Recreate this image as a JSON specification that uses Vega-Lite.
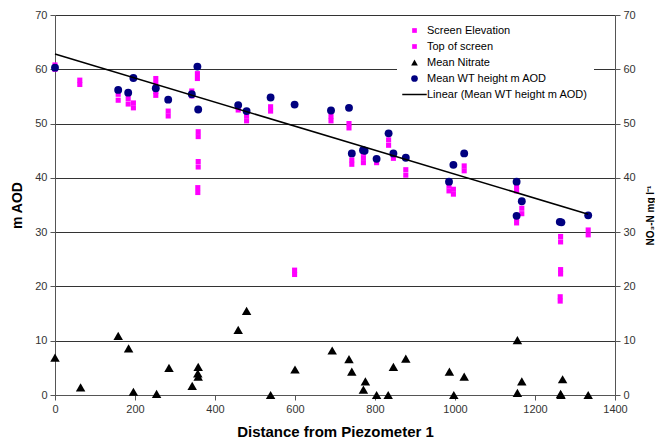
{
  "$schema": "https://vega.github.io/schema/vega-lite/v6.json",
  "width": 560,
  "height": 380,
  "autosize": "none",
  "padding": {"left": 55, "top": 15, "right": 40, "bottom": 44},
  "background": "white",
  "config": {
    "view": {"stroke": null},
    "font": "Liberation Sans",
    "axis": {
      "labelFont": "Liberation Sans",
      "labelFontSize": 11,
      "labelColor": "#333333",
      "titleFont": "Liberation Sans",
      "titleFontWeight": "bold",
      "titleColor": "#000000",
      "domainColor": "#555555",
      "tickColor": "#555555",
      "tickSize": 5,
      "labelPadding": 3,
      "labelFlush": false
    }
  },
  "layer": [
    {
      "layer": [
        {
          "data": {"values": [
            {"series": "Top of screen", "dist": 0, "value": 60.8},
            {"series": "Screen Elevation", "dist": 0, "value": 60.0},
            {"series": "Top of screen", "dist": 62, "value": 58.0},
            {"series": "Screen Elevation", "dist": 62, "value": 57.2},
            {"series": "Top of screen", "dist": 158, "value": 55.4},
            {"series": "Screen Elevation", "dist": 158, "value": 54.3},
            {"series": "Top of screen", "dist": 183, "value": 54.6},
            {"series": "Screen Elevation", "dist": 183, "value": 53.6},
            {"series": "Top of screen", "dist": 196, "value": 53.8},
            {"series": "Screen Elevation", "dist": 196, "value": 52.9},
            {"series": "Top of screen", "dist": 252, "value": 58.3},
            {"series": "Screen Elevation", "dist": 252, "value": 57.4},
            {"series": "Top of screen", "dist": 252, "value": 55.9},
            {"series": "Screen Elevation", "dist": 252, "value": 55.2},
            {"series": "Top of screen", "dist": 283, "value": 52.3},
            {"series": "Screen Elevation", "dist": 283, "value": 51.4},
            {"series": "Top of screen", "dist": 342, "value": 56.0},
            {"series": "Screen Elevation", "dist": 342, "value": 55.1},
            {"series": "Top of screen", "dist": 356, "value": 59.2},
            {"series": "Screen Elevation", "dist": 356, "value": 58.3},
            {"series": "Top of screen", "dist": 358, "value": 48.5},
            {"series": "Screen Elevation", "dist": 358, "value": 47.6},
            {"series": "Top of screen", "dist": 358, "value": 43.0},
            {"series": "Screen Elevation", "dist": 358, "value": 42.0},
            {"series": "Top of screen", "dist": 357, "value": 38.2},
            {"series": "Screen Elevation", "dist": 357, "value": 37.3},
            {"series": "Top of screen", "dist": 458, "value": 53.0},
            {"series": "Screen Elevation", "dist": 458, "value": 52.5},
            {"series": "Top of screen", "dist": 479, "value": 51.4},
            {"series": "Screen Elevation", "dist": 479, "value": 50.5},
            {"series": "Top of screen", "dist": 539, "value": 53.1},
            {"series": "Screen Elevation", "dist": 539, "value": 52.3},
            {"series": "Top of screen", "dist": 599, "value": 23.0},
            {"series": "Screen Elevation", "dist": 599, "value": 22.2},
            {"series": "Top of screen", "dist": 690, "value": 51.3},
            {"series": "Screen Elevation", "dist": 690, "value": 50.5},
            {"series": "Top of screen", "dist": 735, "value": 50.0},
            {"series": "Screen Elevation", "dist": 735, "value": 49.2},
            {"series": "Top of screen", "dist": 742, "value": 43.3},
            {"series": "Screen Elevation", "dist": 742, "value": 42.5},
            {"series": "Top of screen", "dist": 771, "value": 44.6},
            {"series": "Screen Elevation", "dist": 771, "value": 43.7},
            {"series": "Screen Elevation", "dist": 771, "value": 42.8},
            {"series": "Top of screen", "dist": 804, "value": 43.3},
            {"series": "Screen Elevation", "dist": 804, "value": 42.8},
            {"series": "Top of screen", "dist": 834, "value": 47.0},
            {"series": "Screen Elevation", "dist": 834, "value": 46.0},
            {"series": "Top of screen", "dist": 846, "value": 44.2},
            {"series": "Screen Elevation", "dist": 846, "value": 43.6},
            {"series": "Top of screen", "dist": 877, "value": 41.5},
            {"series": "Screen Elevation", "dist": 877, "value": 40.5},
            {"series": "Top of screen", "dist": 985, "value": 38.5},
            {"series": "Screen Elevation", "dist": 985, "value": 37.6},
            {"series": "Top of screen", "dist": 996, "value": 37.9},
            {"series": "Screen Elevation", "dist": 996, "value": 37.0},
            {"series": "Top of screen", "dist": 1023, "value": 42.2},
            {"series": "Screen Elevation", "dist": 1023, "value": 41.3},
            {"series": "Top of screen", "dist": 1154, "value": 38.4},
            {"series": "Screen Elevation", "dist": 1154, "value": 37.6},
            {"series": "Top of screen", "dist": 1154, "value": 32.5},
            {"series": "Screen Elevation", "dist": 1154, "value": 31.7},
            {"series": "Top of screen", "dist": 1167, "value": 34.4},
            {"series": "Screen Elevation", "dist": 1167, "value": 33.4},
            {"series": "Top of screen", "dist": 1264, "value": 29.2},
            {"series": "Screen Elevation", "dist": 1264, "value": 28.2},
            {"series": "Top of screen", "dist": 1264, "value": 23.1},
            {"series": "Screen Elevation", "dist": 1264, "value": 22.3},
            {"series": "Top of screen", "dist": 1263, "value": 18.1},
            {"series": "Screen Elevation", "dist": 1263, "value": 17.3},
            {"series": "Top of screen", "dist": 1333, "value": 30.4},
            {"series": "Screen Elevation", "dist": 1333, "value": 29.5}
          ]},
          "mark": {"type": "point", "filled": true, "size": 26, "opacity": 1},
          "encoding": {
            "x": {"field": "dist", "type": "quantitative"},
            "y": {"field": "value", "type": "quantitative"},
            "color": {"field": "series", "type": "nominal"},
            "shape": {"field": "series", "type": "nominal"}
          }
        },
        {
          "data": {"values": [
            {"series": "Mean WT height m AOD", "dist": 0, "value": 60.3},
            {"series": "Mean WT height m AOD", "dist": 158, "value": 56.2},
            {"series": "Mean WT height m AOD", "dist": 183, "value": 55.7},
            {"series": "Mean WT height m AOD", "dist": 196, "value": 58.4},
            {"series": "Mean WT height m AOD", "dist": 252, "value": 56.5},
            {"series": "Mean WT height m AOD", "dist": 283, "value": 54.4},
            {"series": "Mean WT height m AOD", "dist": 342, "value": 55.4},
            {"series": "Mean WT height m AOD", "dist": 356, "value": 60.5},
            {"series": "Mean WT height m AOD", "dist": 358, "value": 52.6},
            {"series": "Mean WT height m AOD", "dist": 458, "value": 53.4},
            {"series": "Mean WT height m AOD", "dist": 479, "value": 52.3},
            {"series": "Mean WT height m AOD", "dist": 539, "value": 54.8},
            {"series": "Mean WT height m AOD", "dist": 599, "value": 53.5},
            {"series": "Mean WT height m AOD", "dist": 690, "value": 52.4},
            {"series": "Mean WT height m AOD", "dist": 735, "value": 52.9},
            {"series": "Mean WT height m AOD", "dist": 742, "value": 44.5},
            {"series": "Mean WT height m AOD", "dist": 770, "value": 45.1},
            {"series": "Mean WT height m AOD", "dist": 774, "value": 45.0},
            {"series": "Mean WT height m AOD", "dist": 804, "value": 43.5},
            {"series": "Mean WT height m AOD", "dist": 834, "value": 48.2},
            {"series": "Mean WT height m AOD", "dist": 846, "value": 44.5},
            {"series": "Mean WT height m AOD", "dist": 877, "value": 43.7},
            {"series": "Mean WT height m AOD", "dist": 985, "value": 39.3},
            {"series": "Mean WT height m AOD", "dist": 996, "value": 42.4},
            {"series": "Mean WT height m AOD", "dist": 1023, "value": 44.5},
            {"series": "Mean WT height m AOD", "dist": 1154, "value": 39.3},
            {"series": "Mean WT height m AOD", "dist": 1154, "value": 33.0},
            {"series": "Mean WT height m AOD", "dist": 1167, "value": 35.7},
            {"series": "Mean WT height m AOD", "dist": 1262, "value": 31.9},
            {"series": "Mean WT height m AOD", "dist": 1266, "value": 31.8},
            {"series": "Mean WT height m AOD", "dist": 1333, "value": 33.1}
          ]},
          "mark": {"type": "point", "filled": true, "size": 62, "opacity": 1},
          "encoding": {
            "x": {"field": "dist", "type": "quantitative"},
            "y": {"field": "value", "type": "quantitative"},
            "color": {"field": "series", "type": "nominal"},
            "shape": {"field": "series", "type": "nominal"}
          }
        },
        {
          "data": {"values": [
            {"series": "Linear (Mean WT height m AOD)", "dist": 0, "value": 62.8},
            {"series": "Linear (Mean WT height m AOD)", "dist": 1333, "value": 33.3}
          ]},
          "mark": {"type": "line", "strokeWidth": 1.5},
          "encoding": {
            "x": {"field": "dist", "type": "quantitative"},
            "y": {"field": "value", "type": "quantitative"},
            "color": {"field": "series", "type": "nominal"}
          }
        }
      ],
      "encoding": {
        "x": {
          "field": "dist", "type": "quantitative",
          "scale": {"domain": [0, 1400], "nice": false, "zero": false},
          "axis": {
            "title": "Distance from Piezometer 1",
            "titleFontSize": 15,
            "values": [0, 200, 400, 600, 800, 1000, 1200, 1400],
            "format": "d",
            "grid": false,
            "labelFlush": false,
            "titleX": 280,
            "titleY": 36,
            "titleBaseline": "middle",
            "titleAnchor": "middle"
          }
        },
        "y": {
          "field": "value", "type": "quantitative",
          "scale": {"domain": [0, 70], "nice": false},
          "axis": {
            "title": "m AOD",
            "titleFontSize": 14,
            "values": [0, 10, 20, 30, 40, 50, 60, 70],
            "grid": true,
            "gridColor": "#333333",
            "gridWidth": 1,
            "titleAngle": 270,
            "titleX": -38,
            "titleY": 190,
            "titleAlign": "center",
            "titleBaseline": "middle"
          }
        },
        "color": {
          "field": "series", "type": "nominal",
          "scale": {
            "domain": ["Screen Elevation", "Top of screen", "Mean Nitrate", "Mean WT height m AOD", "Linear (Mean WT height m AOD)"],
            "range": ["#FF00FF", "#FF00FF", "#000000", "#000080", "#000000"]
          },
          "legend": {
            "title": null,
            "orient": "none",
            "legendX": 342,
            "legendY": 4,
            "padding": 6,
            "fillColor": "white",
            "labelFont": "Liberation Sans",
            "labelFontSize": 11,
            "labelColor": "#000000",
            "labelLimit": 300,
            "rowPadding": 4,
            "symbolSize": 40,
            "symbolOffset": 6,
            "labelOffset": 7,
            "encode": {
              "symbols": {
                "update": {
                  "stroke": {"signal": "scale('color', datum.value)"},
                  "strokeWidth": {"signal": "datum.value === 'Linear (Mean WT height m AOD)' ? 1.5 : 0"},
                  "size": {"signal": "datum.value === 'Linear (Mean WT height m AOD)' ? 600 : (datum.value === 'Mean Nitrate' || datum.value === 'Mean WT height m AOD') ? 45 : 22"}
                }
              }
            }
          }
        },
        "shape": {
          "field": "series", "type": "nominal",
          "scale": {
            "domain": ["Screen Elevation", "Top of screen", "Mean Nitrate", "Mean WT height m AOD", "Linear (Mean WT height m AOD)"],
            "range": ["square", "square", "triangle-up", "circle", "stroke"]
          }
        }
      }
    },
    {
      "data": {"values": [
        {"series": "Mean Nitrate", "dist": 0, "nitrate": 6.9},
        {"series": "Mean Nitrate", "dist": 64, "nitrate": 1.4},
        {"series": "Mean Nitrate", "dist": 158, "nitrate": 10.9},
        {"series": "Mean Nitrate", "dist": 184, "nitrate": 8.6},
        {"series": "Mean Nitrate", "dist": 196, "nitrate": 0.6},
        {"series": "Mean Nitrate", "dist": 254, "nitrate": 0.2},
        {"series": "Mean Nitrate", "dist": 285, "nitrate": 5.0},
        {"series": "Mean Nitrate", "dist": 343, "nitrate": 1.7},
        {"series": "Mean Nitrate", "dist": 358, "nitrate": 5.2},
        {"series": "Mean Nitrate", "dist": 357, "nitrate": 4.0},
        {"series": "Mean Nitrate", "dist": 358, "nitrate": 3.4},
        {"series": "Mean Nitrate", "dist": 458, "nitrate": 12.0},
        {"series": "Mean Nitrate", "dist": 479, "nitrate": 15.5},
        {"series": "Mean Nitrate", "dist": 539, "nitrate": 0.0},
        {"series": "Mean Nitrate", "dist": 600, "nitrate": 4.7},
        {"series": "Mean Nitrate", "dist": 693, "nitrate": 8.2},
        {"series": "Mean Nitrate", "dist": 735, "nitrate": 6.6},
        {"series": "Mean Nitrate", "dist": 742, "nitrate": 4.3},
        {"series": "Mean Nitrate", "dist": 776, "nitrate": 2.5},
        {"series": "Mean Nitrate", "dist": 771, "nitrate": 1.0},
        {"series": "Mean Nitrate", "dist": 804, "nitrate": 0.0},
        {"series": "Mean Nitrate", "dist": 833, "nitrate": 0.0},
        {"series": "Mean Nitrate", "dist": 846, "nitrate": 5.2},
        {"series": "Mean Nitrate", "dist": 877, "nitrate": 6.7},
        {"series": "Mean Nitrate", "dist": 986, "nitrate": 4.3},
        {"series": "Mean Nitrate", "dist": 997, "nitrate": 0.0},
        {"series": "Mean Nitrate", "dist": 1023, "nitrate": 3.4},
        {"series": "Mean Nitrate", "dist": 1156, "nitrate": 10.1},
        {"series": "Mean Nitrate", "dist": 1156, "nitrate": 0.4},
        {"series": "Mean Nitrate", "dist": 1167, "nitrate": 2.5},
        {"series": "Mean Nitrate", "dist": 1264, "nitrate": 0.2},
        {"series": "Mean Nitrate", "dist": 1265, "nitrate": 0.0},
        {"series": "Mean Nitrate", "dist": 1269, "nitrate": 2.9},
        {"series": "Mean Nitrate", "dist": 1333, "nitrate": 0.0}
      ]},
      "mark": {"type": "point", "filled": true, "size": 90, "opacity": 1},
      "encoding": {
        "x": {"field": "dist", "type": "quantitative"},
        "y": {
          "field": "nitrate", "type": "quantitative",
          "scale": {"domain": [0, 70], "nice": false},
          "axis": {
            "orient": "right",
            "title": "NO₃-N mg l⁻¹",
            "titleFontSize": 10,
            "values": [0, 10, 20, 30, 40, 50, 60, 70],
            "grid": false,
            "titleAngle": 270,
            "titleX": 35,
            "titleY": 200,
            "titleAlign": "center",
            "titleBaseline": "middle"
          }
        },
        "color": {"field": "series", "type": "nominal"},
        "shape": {"field": "series", "type": "nominal"}
      }
    }
  ],
  "resolve": {"scale": {"y": "independent"}}
}
